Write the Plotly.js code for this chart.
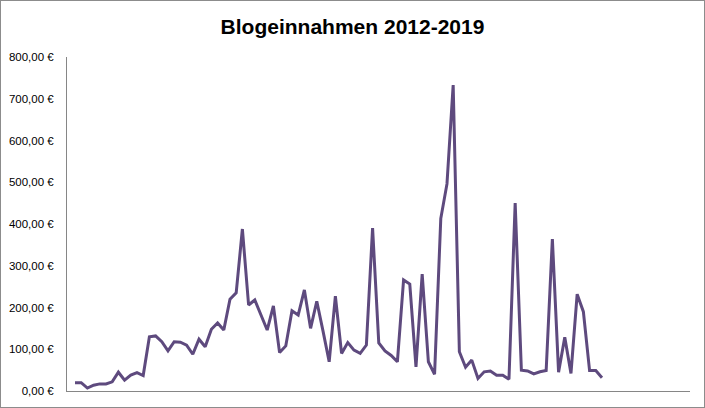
<!DOCTYPE html>
<html>
<head>
<meta charset="utf-8">
<script src="https://cdn.plot.ly/plotly-3.0.1.min.js"></script>
<style>
  html, body { margin: 0; padding: 0; background: #fff; }
  #frame { width: 703px; height: 406px; border: 1px solid #8c8c8c; }
  #chart { width: 703px; height: 406px; }
</style>
</head>
<body>
<div id="frame"><div id="chart"></div></div>
<script>
// Monthly blog income (EUR)
const earnings = [
  20, 20, 7, 14, 17, 17, 22, 45, 26, 38, 44, 37,
  130, 132, 118, 96, 118, 117, 110, 88, 124, 106, 148, 163,
  146, 220, 235, 388, 206, 218, 182, 146, 204, 92, 108, 192,
  182, 242, 150, 215, 144, 70, 227, 90, 116, 98, 90, 110,
  390, 115, 96, 85, 70, 266, 256, 58, 280, 70, 40, 413,
  496, 733, 94, 57, 74, 30, 46, 48, 38, 38, 28, 450,
  50, 48, 41, 46, 49, 364, 45, 129, 42, 232, 190, 49,
  49, 32
];
const monthIndex = earnings.map((_, i) => i);
const yTicks = [0, 100, 200, 300, 400, 500, 600, 700, 800];
const yTickLabels = ['0,00 €', '100,00 €', '200,00 €', '300,00 €', '400,00 €',
                     '500,00 €', '600,00 €', '700,00 €', '800,00 €'];
const chartTitle = 'Blogeinnahmen 2012-2019';

const trace = {
  x: monthIndex,
  y: earnings,
  type: 'scatter',
  mode: 'lines',
  line: { color: '#5E4A7E', width: 3 },
  hoverinfo: 'y'
};

const layout = {
  width: 703,
  height: 406,
  paper_bgcolor: '#ffffff',
  plot_bgcolor: '#ffffff',
  margin: { l: 66, r: 14, t: 56, b: 16 },
  showlegend: false,
  title: {
    text: chartTitle,
    font: { family: 'Liberation Sans, Arial, sans-serif', size: 21, color: '#000000', weight: 'bold' },
    x: 0.5, xanchor: 'center', xref: 'container',
    y: 1 - 26 / 406, yanchor: 'middle', yref: 'container'
  },
  xaxis: {
    range: [-1.29, 99.2],
    showgrid: false,
    zeroline: false,
    showticklabels: false,
    ticks: '',
    showline: true,
    linecolor: '#868686',
    linewidth: 1
  },
  yaxis: {
    range: [0, 800],
    tickmode: 'array',
    tickvals: yTicks,
    ticktext: yTickLabels,
    showgrid: false,
    zeroline: false,
    ticks: '',
    showline: true,
    linecolor: '#868686',
    linewidth: 1,
    ticklabelstandoff: 10,
    tickfont: { family: 'Liberation Sans, Arial, sans-serif', size: 11.5, color: '#000000' }
  }
};

Plotly.newPlot('chart', [trace], layout, { displayModeBar: false, staticPlot: true });
</script>
</body>
</html>
